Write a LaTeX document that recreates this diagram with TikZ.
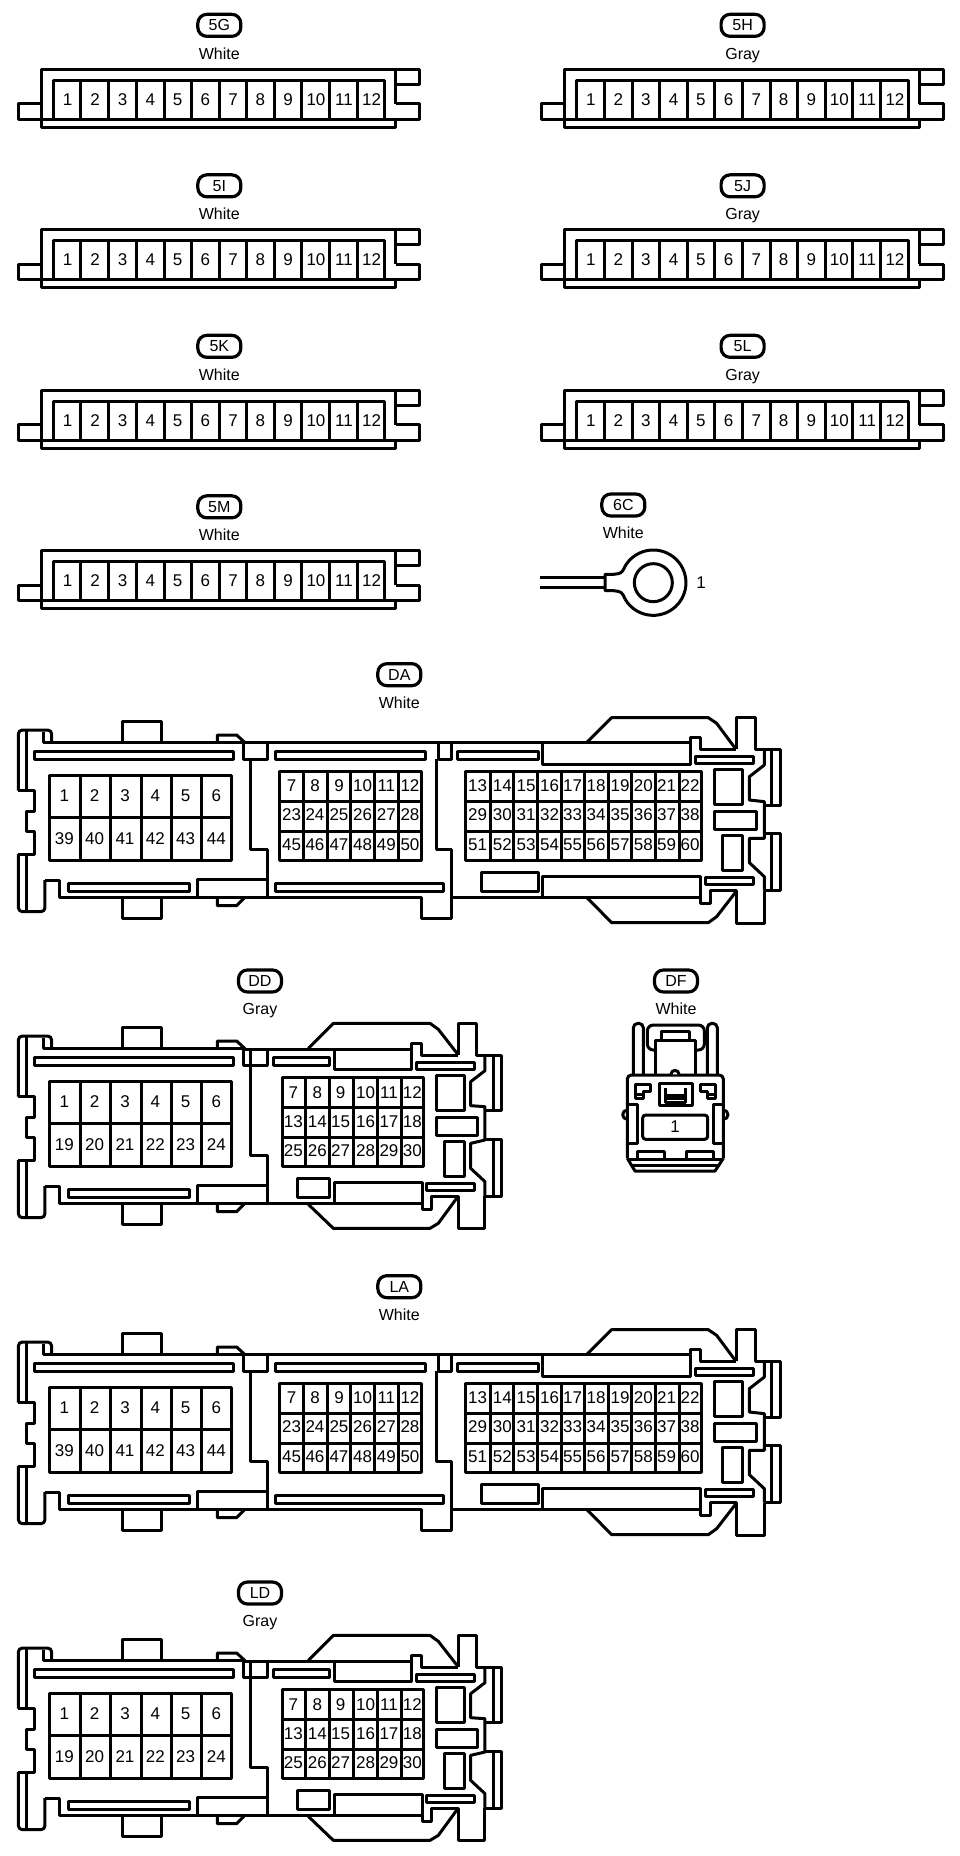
\documentclass[tikz,border=0pt]{standalone}
\usepackage{fontspec}
\setmainfont{Liberation Sans}
\tikzset{
 ln/.style={line width=3pt,line join=round,line cap=butt},
 zoomunits/.style={x=0.33333pt,y=-0.33333pt},
 badge/.style={draw,line width=3.2pt,rounded corners=9pt,minimum width=43pt,minimum height=22pt,inner sep=0pt,font=\fontsize{16}{16}\selectfont},
 colour/.style={inner sep=0pt,text height=11.5pt,text depth=0pt,font=\fontsize{16}{16}\selectfont},
 pin/.style={inner sep=0pt,font=\fontsize{17}{17}\selectfont}
}
\newcommand{\lab}[5]{% prefix, x, y, badge text, colour
 \node[badge] (#1b) at (#2,#3) {#4};
 \node[colour] (#1c) at (#2,#3+84) {#5};
}
\newcommand{\pinrow}[3]{% prefix, y, x/num list
 \foreach \px/\pn in {#3} { \node[pin] (#1p\pn) at (\px,#2) {\pn}; }
}
% ---- small 12-way connector
\newcommand{\smallconn}[5]{% dx, dy, name, text, colour
\begin{scope}[xshift=#1pt,yshift=-#2pt,zoomunits]
 \lab{#3}{658}{76}{#4}{#5}
 \draw[ln] (1188,311)--(1188,207)--(125,207)--(125,381)--(1188,381)--(1188,357);
 \draw[ln] (1188,207)--(1260,207)--(1260,252)--(1188,252);
 \draw[ln] (1188,311)--(1260,311)--(1260,357)--(55,357)--(55,311)--(125,311);
 \draw[ln] (160,357)--(160,241)--(1155,241)--(1155,357);
 \foreach \dv in {243,327,410,493,575,658,741,823,906,989,1072} \draw[ln] (\dv,241)--(\dv,357);
 \pinrow{#3}{298}{203/1,285/2,368/3,451/4,533/5,616/6,699/7,781/8,864/9,948/10,1032/11,1115/12}
\end{scope}}
% ---- left half shared by all the large connectors
\newcommand{\leftpart}[1]{%
 \draw[ln,rounded corners=4pt] (55,392)--(55,210)--(155,210)--(155,248);
 \draw[ln] (55,392)--(105,392)--(105,455)--(80,455)--(80,515)--(105,515)--(105,582)--(55,582);
 \draw[ln,rounded corners=4pt] (55,582)--(55,755)--(135,755)--(135,660);
 \draw[ln] (135,660)--(180,660)--(180,712)--(802,712);
 \draw[ln] (80,210)--(80,392) (80,582)--(80,755);
 \draw[ln] (130,215)--(130,248)--(735,248);
 \draw[ln] (367,248)--(367,185)--(485,185)--(485,248);
 \draw[ln] (367,712)--(367,775)--(485,775)--(485,712);
 \draw[ln] (652,248)--(652,225)--(710,225)--(735,248);
 \draw[ln] (652,712)--(652,737)--(710,737)--(735,712);
 \draw[ln] (105,275) rectangle (700,298);
 \draw[ln] (205,670) rectangle (570,695);
 \draw[ln] (592,712)--(592,658)--(802,658);
 \draw[ln] (148,345) rectangle (695,600);
 \draw[ln] (148,472)--(695,472);
 \foreach \dv in {242,332,426,516,606} \draw[ln] (\dv,345)--(\dv,600);
}
% ---- big connector with three blocks
\newcommand{\longconn}[4]{% y origin, name, text, colour
\begin{scope}[yshift=-#1pt,zoomunits]
 \lab{#2}{1198}{44}{#3}{#4}
 \leftpart{}
 \pinrow{#2}{408}{193/1,284/2,375/3,466/4,557/5,649/6}
 \pinrow{#2}{535}{193/39,284/40,375/41,466/42,557/43,649/44}
 \draw[ln] (735,248)--(1295,248);
 \draw[ln] (730,248) rectangle (802,298);
 \draw[ln] (752,298)--(752,568)--(802,568)--(802,712);
 \draw[ln] (826,275) rectangle (1278,298);
 \draw[ln] (826,670) rectangle (1332,695);
 \draw[ln] (802,712)--(1265,712)--(1265,775)--(1355,775)--(1355,712);
 \draw[ln] (838,335) rectangle (1265,600);
 \draw[ln] (838,425)--(1265,425) (838,515)--(1265,515);
 \foreach \dv in {910,982,1053,1125,1196} \draw[ln] (\dv,335)--(\dv,600);
 \pinrow{#2}{377}{875/7,945/8,1017/9,1088/10,1159/11,1230/12}
 \pinrow{#2}{465}{875/23,945/24,1017/25,1088/26,1159/27,1230/28}
 \pinrow{#2}{553}{875/45,945/46,1017/47,1088/48,1159/49,1230/50}
\end{scope}
\begin{scope}[xshift=430pt,yshift=-#1pt,zoomunits]
 \draw[ln] (0,248)--(780,248)--(780,232)--(810,232)--(810,268)--(918,268);
 \draw[ln] (25,248) rectangle (65,298);
 \draw[ln] (20,298)--(20,568)--(65,568)--(65,712);
 \draw[ln] (82,275) rectangle (325,298);
 \draw[ln] (337,250)--(337,313)--(780,313)--(780,250);
 \draw[ln] (470,248)--(545,173)--(835,173)--(860,190)--(918,268);
 \draw[ln] (918,268)--(918,173)--(975,173)--(975,268)--(1050,268)--(1050,437)--(1003,437);
 \draw[ln] (1025,268)--(1025,437);
 \draw[ln] (1003,268)--(1003,315)--(958,350)--(958,420)--(1003,425)--(1003,535)--(958,535)--(958,608)--(1003,650)--(1003,692);
 \draw[ln] (1003,520)--(1050,520)--(1050,692)--(1003,692);
 \draw[ln] (1025,520)--(1025,692);
 \draw[ln] (1003,692)--(1003,790)--(918,790)--(918,692)--(840,692)--(840,730)--(810,730)--(810,712)--(65,712);
 \draw[ln] (470,712)--(545,788)--(835,788)--(860,770)--(918,695);
 \draw[ln] (795,290) rectangle (970,310);
 \draw[ln] (825,652) rectangle (970,672);
 \draw[ln] (337,712)--(337,650)--(812,650)--(812,730);
 \draw[ln] (153,638) rectangle (325,695);
 \draw[ln] (853,328) rectangle (938,433);
 \draw[ln] (853,455) rectangle (980,508);
 \draw[ln] (878,525) rectangle (938,632);
 \draw[ln] (107,335) rectangle (815,600);
 \draw[ln] (107,425)--(815,425) (107,515)--(815,515);
 \foreach \dv in {180,251,323,393,463,534,605,677,748} \draw[ln] (\dv,335)--(\dv,600);
 \pinrow{#2}{377}{143/13,217/14,288/15,359/16,428/17,498/18,570/19,640/20,710/21,780/22}
 \pinrow{#2}{465}{143/29,217/30,288/31,359/32,428/33,498/34,570/35,640/36,710/37,780/38}
 \pinrow{#2}{553}{143/51,217/52,288/53,359/54,428/55,498/56,570/57,640/58,710/59,780/60}
\end{scope}}
% ---- big connector with two blocks
\newcommand{\shortconn}[4]{% y origin, name, text, colour
\begin{scope}[yshift={-(#1+6)*1pt},zoomunits]
 \leftpart{}
 \pinrow{#2}{408}{193/1,284/2,375/3,466/4,557/5,649/6}
 \pinrow{#2}{535}{193/19,284/20,375/21,466/22,557/23,649/24}
\end{scope}
\begin{scope}[yshift=-#1pt,zoomunits]
 \lab{#2}{780}{63}{#3}{#4}
 \draw[ln] (735,268)--(1235,268)--(1235,250)--(1265,250)--(1265,285)--(1375,285);
 \draw[ln] (730,268) rectangle (802,315);
 \draw[ln] (752,268)--(752,585)--(802,585)--(802,730);
 \draw[ln] (820,292) rectangle (990,315);
 \draw[ln] (1005,268)--(1005,327)--(1235,327)--(1235,268);
 \draw[ln] (925,265)--(1000,190)--(1290,190)--(1315,208)--(1375,285);
 \draw[ln] (1375,285)--(1375,190)--(1430,190)--(1430,285)--(1505,285)--(1505,452)--(1455,452);
 \draw[ln] (1480,285)--(1480,452);
 \draw[ln] (1455,285)--(1455,332)--(1412,365)--(1412,437)--(1455,440)--(1455,540)--(1412,550)--(1412,625)--(1455,665)--(1455,708);
 \draw[ln] (1455,537)--(1505,537)--(1505,708)--(1455,708);
 \draw[ln] (1480,537)--(1480,708);
 \draw[ln] (1455,708)--(1455,805)--(1375,805)--(1375,708)--(1295,708)--(1295,748)--(1268,748)--(1268,730)--(802,730);
 \draw[ln] (925,733)--(1000,805)--(1290,805)--(1315,790)--(1372,712);
 \draw[ln] (1005,730)--(1005,668)--(1268,668)--(1268,748);
 \draw[ln] (1250,308) rectangle (1425,328);
 \draw[ln] (1280,670) rectangle (1425,690);
 \draw[ln] (893,655) rectangle (990,712);
 \draw[ln] (1310,345) rectangle (1395,452);
 \draw[ln] (1310,472) rectangle (1433,525);
 \draw[ln] (1333,543) rectangle (1395,650);
 \draw[ln] (848,352) rectangle (1272,620);
 \draw[ln] (848,442)--(1272,442) (848,532)--(1272,532);
 \foreach \dv in {918,990,1062,1133,1204} \draw[ln] (\dv,352)--(\dv,620);
 \pinrow{#2}{397}{880/7,952/8,1022/9,1097/10,1167/11,1237/12}
 \pinrow{#2}{485}{880/13,952/14,1022/15,1097/16,1167/17,1237/18}
 \pinrow{#2}{573}{880/25,952/26,1022/27,1097/28,1167/29,1237/30}
\end{scope}}
\begin{document}
\begin{tikzpicture}[x=1pt,y=-1pt]
\useasboundingbox (0,0) rectangle (960,1856);
\fill[white] (0,0) rectangle (960,1856);
\smallconn{0}{0}{G}{5G}{White}
\smallconn{0}{160.5}{I}{5I}{White}
\smallconn{0}{321}{K}{5K}{White}
\smallconn{0}{481.5}{M}{5M}{White}
\smallconn{523.3}{0}{H}{5H}{Gray}
\smallconn{523.3}{160.5}{J}{5J}{Gray}
\smallconn{523.3}{321}{L}{5L}{Gray}
% 6C ring terminal
\begin{scope}[xshift=520pt,yshift=-490pt,zoomunits]
 \lab{C}{310}{45}{6C}{White}
 \draw[ln] (60,262)--(255,262) (60,293)--(255,293);
 \draw[ln] (315,229) arc[start angle=210,end angle=510,radius=98];
 \draw[ln] (315,229) .. controls (305,250) .. (280,253)--(255,253)--(255,302)--(280,302) .. controls (305,305) .. (315,327);
 \draw[ln] (400,278) circle[radius=57];
 \node[pin] (Cone) at (543,277) {1};
\end{scope}
\longconn{660}{A}{DA}{White}
\longconn{1272}{B}{LA}{White}
\shortconn{960}{D}{DD}{Gray}
\shortconn{1572}{E}{LD}{Gray}
% DF
\begin{scope}[xshift=615pt,yshift=-1015pt,zoomunits]
 \lab{F}{183}{-102}{DF}{White}
 \draw[ln,rounded corners=4pt] (37,430)--(37,180)--(325,180)--(325,430);
 \draw[ln] (37,430)--(60,468)--(300,468)--(325,430);
 \draw[ln] (37,432)--(325,432) (52,450)--(310,450);
 \draw[ln,rounded corners=4.5pt] (55,180)--(55,25)--(85,25)--(85,180);
 \draw[ln,rounded corners=4.5pt] (277,180)--(277,25)--(307,25)--(307,180);
 \draw[ln,rounded corners=6pt] (120,105)--(97,105)--(97,30)--(268,30)--(268,105)--(240,105);
 \draw[ln] (120,180)--(120,75)--(240,75)--(240,180);
 \draw[ln] (140,75)--(140,50)--(222,50)--(222,75);
 \draw[ln,fill=white] (168,178) arc[start angle=180,end angle=360,radius=12];
 \draw[ln] (60,207)--(105,207)--(105,230)--(85,230)--(85,250)--(60,250)--cycle (60,238)--(85,238);
 \draw[ln] (302,207)--(257,207)--(257,230)--(277,230)--(277,250)--(302,250)--cycle (302,238)--(277,238);
 \draw[ln] (132,205) rectangle (232,272);
 \draw[ln] (150,220)--(150,262)--(212,262)--(212,220) (150,240)--(212,240) (150,250)--(212,250);
 \draw[ln] (37,268)--(68,268)--(68,385)--(37,385);
 \draw[ln] (325,268)--(295,268)--(295,385)--(325,385);
 \draw[ln] (37,285) arc[start angle=270,end angle=90,radius=14];
 \draw[ln] (325,285) arc[start angle=270,end angle=450,radius=14];
 \draw[ln,rounded corners=3pt] (83,300) rectangle (278,373);
 \node[pin] (Fone) at (180,335) {1};
 \draw[ln] (68,432)--(68,408)--(148,408)--(148,432);
 \draw[ln] (215,432)--(215,408)--(295,408)--(295,432);
\end{scope}
\end{tikzpicture}
\end{document}
